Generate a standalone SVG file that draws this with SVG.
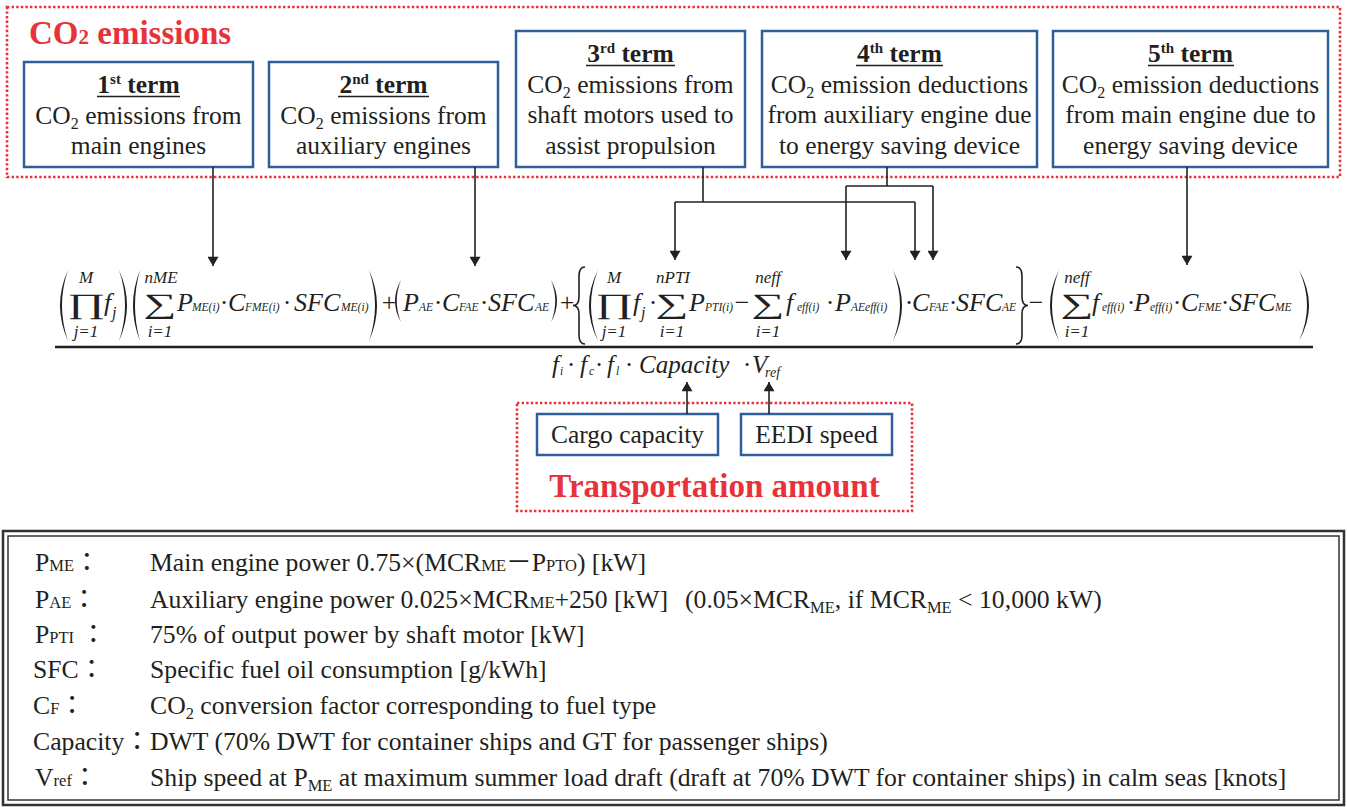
<svg xmlns="http://www.w3.org/2000/svg" width="1347" height="807" viewBox="0 0 1347 807">
<style>
text{font-family:"Liberation Serif","Times New Roman","Noto Sans CJK JP",serif;fill:#231f20}
.bx{fill:#fff;stroke:#2f5f9a;stroke-width:2.5}
.rd{fill:none;stroke:#e8323a;stroke-width:2.6;stroke-dasharray:2.4 2.2}
.red{fill:#e8323a;font-weight:bold;font-size:33px}
.bt{font-size:25.5px;text-anchor:middle}
.hd{font-weight:bold}
.ul{stroke:#231f20;stroke-width:1.6}
.cn{fill:none;stroke:#222;stroke-width:1.6}
.m{font-style:italic;font-size:26px}
.s{font-style:italic;font-size:11.5px}
.lim{font-style:italic;font-size:17px;text-anchor:middle}
.big{font-size:44px;text-anchor:middle}
.op{font-size:26px;text-anchor:middle}
.dl{fill:#231f20}
.br{fill:none;stroke:#231f20;stroke-width:1.6}
.lg{font-size:25.7px}
.lgs{font-size:16.5px}
.frame{fill:none;stroke:#333}
</style>
<defs>
<marker id="ah" viewBox="0 0 10 12" refX="10" refY="6" markerWidth="12" markerHeight="11" markerUnits="userSpaceOnUse" orient="auto">
<path d="M0,0 L10,6 L0,12 z" fill="#222"/>
</marker>
</defs>
<rect width="1347" height="807" fill="#fff"/>

<g id="co2-emissions">
<rect class="rd" x="7" y="7" width="1333" height="170"/>
<text class="red" x="29" y="44">CO<tspan font-size="21">2</tspan> emissions</text>
</g>

<g id="term1">
<rect class="bx" x="24" y="62" width="229" height="105"/>
<text class="bt hd" x="138.5" y="93">1<tspan font-size="15" dy="-9">st</tspan><tspan dy="9"> term</tspan></text>
<line class="ul" x1="97" y1="96.5" x2="180" y2="96.5"/>
<text class="bt" x="138.5" y="124">CO<tspan font-size="16" dy="5">2</tspan><tspan dy="-5"> emissions from</tspan></text>
<text class="bt" x="138.5" y="154">main engines</text>
</g>

<g id="term2">
<rect class="bx" x="269" y="62" width="229" height="105"/>
<text class="bt hd" x="383.5" y="93">2<tspan font-size="15" dy="-9">nd</tspan><tspan dy="9"> term</tspan></text>
<line class="ul" x1="338" y1="96.5" x2="429" y2="96.5"/>
<text class="bt" x="383.5" y="124">CO<tspan font-size="16" dy="5">2</tspan><tspan dy="-5"> emissions from</tspan></text>
<text class="bt" x="383.5" y="154">auxiliary engines</text>
</g>

<g id="term3">
<rect class="bx" x="516" y="31" width="229" height="136"/>
<text class="bt hd" x="630.5" y="62">3<tspan font-size="15" dy="-9">rd</tspan><tspan dy="9"> term</tspan></text>
<line class="ul" x1="586" y1="65.5" x2="675" y2="65.5"/>
<text class="bt" x="630.5" y="93">CO<tspan font-size="16" dy="5">2</tspan><tspan dy="-5"> emissions from</tspan></text>
<text class="bt" x="630.5" y="123">shaft motors used to</text>
<text class="bt" x="630.5" y="154">assist propulsion</text>
</g>

<g id="term4">
<rect class="bx" x="762" y="31" width="275" height="136"/>
<text class="bt hd" x="899.5" y="62">4<tspan font-size="15" dy="-9">th</tspan><tspan dy="9"> term</tspan></text>
<line class="ul" x1="856" y1="65.5" x2="943" y2="65.5"/>
<text class="bt" x="899.5" y="93">CO<tspan font-size="16" dy="5">2</tspan><tspan dy="-5"> emission deductions</tspan></text>
<text class="bt" x="899.5" y="123">from auxiliary engine due</text>
<text class="bt" x="899.5" y="154">to energy saving device</text>
</g>

<g id="term5">
<rect class="bx" x="1053" y="31" width="275" height="136"/>
<text class="bt hd" x="1190.5" y="62">5<tspan font-size="15" dy="-9">th</tspan><tspan dy="9"> term</tspan></text>
<line class="ul" x1="1148" y1="65.5" x2="1234" y2="65.5"/>
<text class="bt" x="1190.5" y="93">CO<tspan font-size="16" dy="5">2</tspan><tspan dy="-5"> emission deductions</tspan></text>
<text class="bt" x="1190.5" y="123">from main engine due to</text>
<text class="bt" x="1190.5" y="154">energy saving device</text>
</g>

<g id="formula">
<!-- term 1 -->
<path class="dl" d="M68,270 Q52,305.5 68,341 Q56,305.5 68,270Z"/>
<text class="big" transform="translate(86,312.5) scale(1.05,0.64)">∏</text>
<text class="lim" x="86" y="283">M</text>
<text class="lim" x="86" y="337">j=1</text>
<text class="m" x="104" y="311">f</text>
<text class="s" x="112" y="318" style="font-size:16px">j</text>
<path class="dl" d="M119,270 Q135,305.5 119,341 Q131,305.5 119,270Z"/>
<path class="dl" d="M140,270 Q126,305.5 140,341 Q130,305.5 140,270Z"/>
<text class="big" transform="translate(160,312.5) scale(1.05,0.64)">∑</text>
<text class="lim" x="161" y="283">nME</text>
<text class="lim" x="160" y="337">i=1</text>
<text class="m" x="177" y="311">P</text><text class="s" x="192" y="311">ME(i)</text>
<text class="op" x="224" y="311">·</text>
<text class="m" x="228" y="311">C</text><text class="s" x="245" y="311">FME(i)</text>
<text class="op" x="287" y="311">·</text>
<text class="m" x="294" y="311">SFC</text><text class="s" x="341" y="311">ME(i)</text>
<path class="dl" d="M369,270 Q385,305.5 369,341 Q381,305.5 369,270Z"/>
<!-- term 2 -->
<text class="op" x="389" y="311">+</text>
<path class="dl" d="M401,280 Q389,301 401,322 Q392.5,301 401,280Z"/>
<text class="m" x="403" y="311">P</text><text class="s" x="419" y="311">AE</text>
<text class="op" x="438" y="311">·</text>
<text class="m" x="442" y="311">C</text><text class="s" x="459" y="311">FAE</text>
<text class="op" x="484" y="311">·</text>
<text class="m" x="488" y="311">SFC</text><text class="s" x="535" y="311">AE</text>
<path class="dl" d="M551,280 Q563,301 551,322 Q559.5,301 551,280Z"/>
<!-- term 3/4 -->
<text class="op" x="567" y="311">+</text>
<path class="br" d="M585,267 Q579,267 579,276 L579,297 Q579,305.5 573,305.5 Q579,305.5 579,314 L579,335 Q579,344 585,344"/>
<path class="dl" d="M598,270 Q580,305.5 598,341 Q584,305.5 598,270Z"/>
<text class="big" transform="translate(614,312.5) scale(1.05,0.64)">∏</text>
<text class="lim" x="614" y="283">M</text>
<text class="lim" x="614" y="337">j=1</text>
<text class="m" x="633" y="311">f</text>
<text class="s" x="641" y="318" style="font-size:16px">j</text>
<text class="op" x="653" y="311">·</text>
<text class="big" transform="translate(672,312.5) scale(1.05,0.64)">∑</text>
<text class="lim" x="673" y="283">nPTI</text>
<text class="lim" x="672" y="337">i=1</text>
<text class="m" x="689" y="311">P</text><text class="s" x="705" y="311">PTI(i)</text>
<text class="op" x="742" y="311">−</text>
<text class="big" transform="translate(768,312.5) scale(1.05,0.64)">∑</text>
<text class="lim" x="768" y="283">neff</text>
<text class="lim" x="768" y="337">i=1</text>
<text class="m" x="786" y="311">f</text><text class="s" x="797" y="311">eff(i)</text>
<text class="op" x="830" y="311">·</text>
<text class="m" x="835" y="311">P</text><text class="s" x="851" y="311">AEeff(i)</text>
<path class="dl" d="M893,270 Q911,305.5 893,341 Q907,305.5 893,270Z"/>
<text class="op" x="909" y="311">·</text>
<text class="m" x="912" y="311">C</text><text class="s" x="929" y="311">FAE</text>
<text class="op" x="953" y="311">·</text>
<text class="m" x="956" y="311">SFC</text><text class="s" x="1002" y="311">AE</text>
<path class="br" d="M1016,267 Q1022,267 1022,276 L1022,297 Q1022,305.5 1028,305.5 Q1022,305.5 1022,314 L1022,335 Q1022,344 1016,344"/>
<!-- term 5 -->
<text class="op" x="1036" y="311">−</text>
<path class="dl" d="M1059,270 Q1041,305.5 1059,341 Q1045,305.5 1059,270Z"/>
<text class="big" transform="translate(1077,312.5) scale(1.05,0.64)">∑</text>
<text class="lim" x="1077" y="283">neff</text>
<text class="lim" x="1077" y="337">i=1</text>
<text class="m" x="1092" y="311">f</text><text class="s" x="1102" y="311">eff(i)</text>
<text class="op" x="1131" y="311">·</text>
<text class="m" x="1134" y="311">P</text><text class="s" x="1150" y="311">eff(i)</text>
<text class="op" x="1177" y="311">·</text>
<text class="m" x="1181" y="311">C</text><text class="s" x="1198" y="311">FME</text>
<text class="op" x="1225" y="311">·</text>
<text class="m" x="1229" y="311">SFC</text><text class="s" x="1275" y="311">ME</text>
<path class="dl" d="M1299,270 Q1319,305.5 1299,341 Q1315,305.5 1299,270Z"/>
<!-- fraction bar -->
<line x1="55" y1="347" x2="1313" y2="347" stroke="#231f20" stroke-width="2.5"/>
<!-- denominator -->
<text class="m" x="552" y="373" style="font-size:25px">f</text><text class="s" x="560" y="375">i</text>
<text class="op" x="571" y="373">·</text>
<text class="m" x="580" y="373" style="font-size:25px">f</text><text class="s" x="589" y="375">c</text>
<text class="op" x="599" y="373">·</text>
<text class="m" x="607" y="373" style="font-size:25px">f</text><text class="s" x="616" y="375">l</text>
<text class="op" x="629" y="373">·</text>
<text class="m" x="639" y="373" style="font-size:25px">Capacity</text>
<text class="op" x="747" y="373">·</text>
<text class="m" x="752" y="373" style="font-size:25px">V</text><text class="s" x="765" y="377" style="font-size:14px">ref</text>
</g>

<g id="transportation-amount">
<rect class="rd" x="517" y="403" width="395" height="108"/>
<text class="red" x="714.5" y="497" text-anchor="middle">Transportation amount</text>
</g>

<g id="cargo-capacity">
<rect class="bx" x="537" y="414" width="181" height="41"/>
<text class="bt" x="627.5" y="443">Cargo capacity</text>
</g>

<g id="eedi-speed">
<rect class="bx" x="741" y="414" width="151" height="41"/>
<text class="bt" x="816.5" y="443">EEDI speed</text>
</g>

<g id="connectors">
<path class="cn" d="M213,167 V266" marker-end="url(#ah)"/>
<path class="cn" d="M475,167 V266" marker-end="url(#ah)"/>
<path class="cn" d="M703,167 V202"/>
<path class="cn" d="M675,202 H915"/>
<path class="cn" d="M675,202 V260" marker-end="url(#ah)"/>
<path class="cn" d="M915,202 V260" marker-end="url(#ah)"/>
<path class="cn" d="M887,167 V186"/>
<path class="cn" d="M846,186 H933"/>
<path class="cn" d="M846,186 V260" marker-end="url(#ah)"/>
<path class="cn" d="M933,186 V260" marker-end="url(#ah)"/>
<path class="cn" d="M1187,167 V265" marker-end="url(#ah)"/>
<path class="cn" d="M687,414 V382" marker-end="url(#ah)"/>
<path class="cn" d="M769,414 V382" marker-end="url(#ah)"/>
</g>

<g id="legend">
<rect class="frame" x="3" y="531" width="1341" height="274" stroke-width="2.5"/>
<rect class="frame" x="8" y="536" width="1331" height="264" stroke-width="1.5"/>
<text class="lg" x="35" y="571">P<tspan class="lgs">ME</tspan>：</text>
<text class="lg" x="150" y="571">Main engine power 0.75×(MCR<tspan class="lgs">ME</tspan>－P<tspan class="lgs">PTO</tspan>) [kW]</text>
<text class="lg" x="35" y="608">P<tspan class="lgs">AE</tspan>：</text>
<text class="lg" x="150" y="608">Auxiliary engine power 0.025×MCR<tspan class="lgs">ME</tspan>+250 [kW]</text>
<text class="lg" x="685" y="608">(0.05×MCR<tspan class="lgs" dy="5">ME</tspan><tspan dy="-5">, if MCR</tspan><tspan class="lgs" dy="5">ME</tspan><tspan dy="-5"> &lt; 10,000 kW)</tspan></text>
<text class="lg" x="35" y="643">P<tspan class="lgs">PTI</tspan> ：</text>
<text class="lg" x="150" y="643">75% of output power by shaft motor [kW]</text>
<text class="lg" x="33" y="678">SFC：</text>
<text class="lg" x="150" y="678">Specific fuel oil consumption [g/kWh]</text>
<text class="lg" x="33" y="714">C<tspan class="lgs">F</tspan>：</text>
<text class="lg" x="150" y="714">CO<tspan class="lgs" dy="5">2</tspan><tspan dy="-5"> conversion factor corresponding to fuel type</tspan></text>
<text class="lg" x="33" y="750">Capacity：</text>
<text class="lg" x="150" y="750">DWT (70% DWT for container ships and GT for passenger ships)</text>
<text class="lg" x="35" y="786">V<tspan class="lgs">ref</tspan>：</text>
<text class="lg" x="150" y="786">Ship speed at P<tspan class="lgs" dy="5">ME</tspan><tspan dy="-5"> at maximum summer load draft (draft at 70% DWT for container ships) in calm seas [knots]</tspan></text>
</g>
</svg>
